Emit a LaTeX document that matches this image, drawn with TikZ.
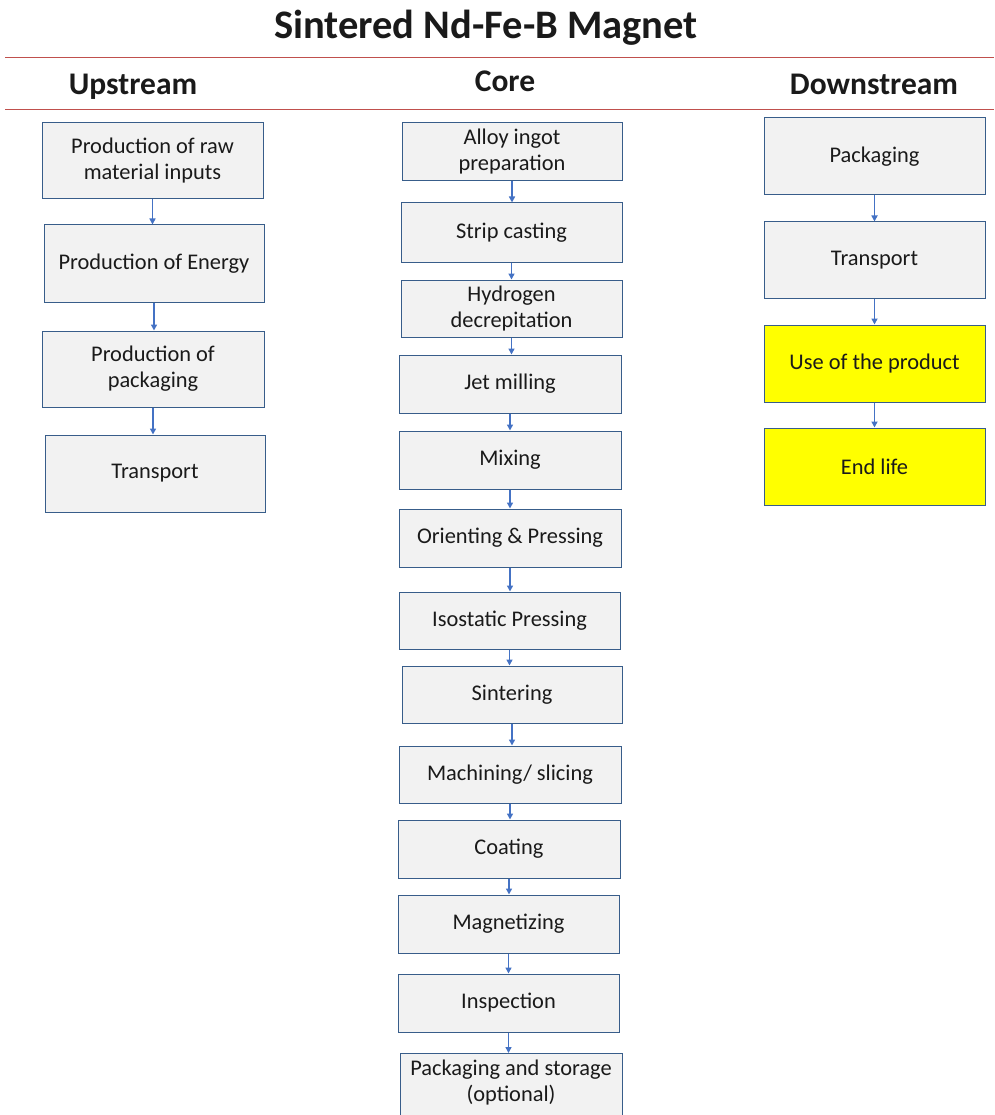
\documentclass[tikz,border=0pt]{standalone}
\usepackage{fontspec}
\setmainfont{Carlito}
\usetikzlibrary{arrows.meta}
\definecolor{boxfill}{HTML}{F2F2F2}
\definecolor{boxline}{HTML}{385D8A}
\definecolor{arrblue}{HTML}{4472C4}
\definecolor{rulered}{HTML}{C0504D}
\definecolor{txt}{HTML}{1A1A1A}
\definecolor{hiyellow}{HTML}{FFFF00}
\tikzset{
  stepbox/.style={draw=boxline, line width=1pt, fill=boxfill, inner sep=0pt,
    align=center, text=txt, font=\fontsize{22.4}{26}\selectfont},
  yelbox/.style={stepbox, fill=hiyellow},
  arr/.style={draw=arrblue, line width=1.8pt, -{Triangle[length=6pt,width=6pt]}},
  header/.style={font=\fontsize{31.5}{34}\selectfont\bfseries, text=txt},
  titletext/.style={font=\fontsize{40.5}{44}\selectfont\bfseries, text=txt},
  rule/.style={draw=rulered, line width=0.9pt}
}
\newcommand{\bx}[7]{% style, name, cx, cy, w, h, text
  \node[#1, minimum width=#5pt, minimum height=#6pt] (#2) at (#3,#4) {#7};}
\begin{document}
\begin{tikzpicture}[x=1pt,y=-1pt]
\useasboundingbox (0,0) rectangle (994,1115);
% title and rules
\node[titletext] (title) at (486,28) {Sintered Nd-Fe-B Magnet};
\coordinate (r1a) at (5,57); \coordinate (r1b) at (994,57);
\coordinate (r2a) at (5,109); \coordinate (r2b) at (994,109);
\draw[rule] (r1a) -- (r1b);
\draw[rule] (r2a) -- (r2b);
\node[header] (hup) at (133,87) {Upstream};
\node[header] (hcore) at (505,81) {Core};
\node[header] (hdown) at (874,84) {Downstream};
% upstream
\bx{stepbox}{u1}{152.5}{161}{221}{76}{Production of raw\\material inputs}
\bx{stepbox}{u2}{154}{263.5}{220}{77}{Production of Energy}
\bx{stepbox}{u3}{153}{369}{222}{76}{Production of\\packaging}
\bx{stepbox}{u4}{155}{473.5}{220}{77}{Transport}
% core
\bx{stepbox}{c1}{512}{152}{220}{58}{Alloy ingot\\preparation}
\bx{stepbox}{c2}{511.5}{232.5}{221}{59}{Strip casting}
\bx{stepbox}{c3}{511.5}{308.5}{221}{57}{Hydrogen\\decrepitation}
\bx{stepbox}{c4}{510}{384}{222}{58}{Jet milling}
\bx{stepbox}{c5}{510}{460}{222}{58}{Mixing}
\bx{stepbox}{c6}{510}{538}{222}{58}{Orienting \& Pressing}
\bx{stepbox}{c7}{509.5}{620.5}{221}{57}{Isostatic Pressing}
\bx{stepbox}{c8}{512}{694.5}{220}{57}{Sintering}
\bx{stepbox}{c9}{510}{774.5}{222}{57}{Machining/ slicing}
\bx{stepbox}{c10}{509}{849}{222}{58}{Coating}
\bx{stepbox}{c11}{508.5}{924}{221}{58}{Magnetizing}
\bx{stepbox}{c12}{508.5}{1003}{221}{58}{Inspection}
\node[stepbox, minimum width=222pt, minimum height=68pt, anchor=north] (c13) at (511,1053) {};
\node[stepbox, draw=none, fill=none] (c13t) at (511,1083) {Packaging and storage\\(optional)};
% downstream
\bx{stepbox}{d1}{874.5}{156.5}{221}{77}{Packaging}
\bx{stepbox}{d2}{874.5}{260}{221}{76}{Transport}
\bx{yelbox}{d3}{874.5}{363.5}{221}{77}{Use of the product}
\bx{yelbox}{d4}{874.5}{466.5}{221}{77}{End life}
% arrows
\foreach \a/\b in {u1/u2,u2/u3,u3/u4,d1/d2,d2/d3,d3/d4,
  c1/c2,c2/c3,c3/c4,c4/c5,c5/c6,c6/c7,c7/c8,c8/c9,c9/c10,c10/c11,c11/c12,c12/c13}
  \draw[arr] (\a.south) -- (\a.south |- \b.north);
\end{tikzpicture}
\end{document}
